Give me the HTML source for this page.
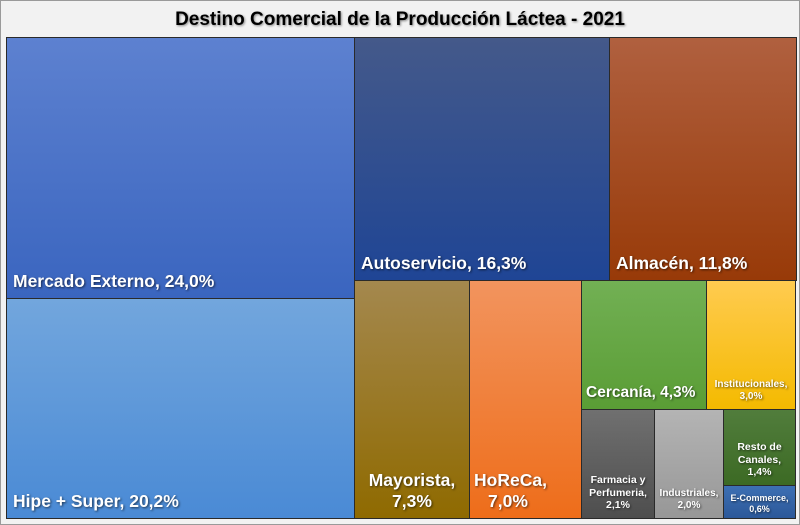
<!DOCTYPE html>
<html><head><meta charset="utf-8"><style>
*{margin:0;padding:0;box-sizing:border-box}
body{width:800px;height:525px;background:#f2f2f2;position:relative;overflow:hidden;font-family:"Liberation Sans",sans-serif;font-weight:bold}
.frame{position:absolute;left:0;top:0;width:800px;height:525px;border:1px solid #9a9a9a}
h1{position:absolute;top:9px;left:0;width:800px;text-align:center;font-size:19px;color:#000;text-shadow:1px 1px 2px #888}
.c{position:absolute;border:1px solid #2a2a2a;color:#fff;text-shadow:1px 1px 2px rgba(0,0,0,.6)}
.c span{position:absolute;bottom:6px;left:6px;line-height:1.2;white-space:nowrap}
.big{font-size:17.5px}
.sm{font-size:10.5px;text-align:center}
</style></head><body>
<div class="frame"></div>
<h1>Destino Comercial de la Producción Láctea - 2021</h1>
<div class="c" style="left:6px;top:37px;width:349px;height:262px;background:linear-gradient(#5d81d0,#3a65bf)"><span class="big">Mercado Externo, 24,0%</span></div>
<div class="c" style="left:6px;top:298px;width:349px;height:221px;background:linear-gradient(#72a6dd,#4a8ad5)"><span class="big">Hipe + Super, 20,2%</span></div>
<div class="c" style="left:354px;top:37px;width:256px;height:244px;background:linear-gradient(#44598a,#1f4595)"><span class="big">Autoservicio, 16,3%</span></div>
<div class="c" style="left:609px;top:37px;width:188px;height:244px;background:linear-gradient(#b0603f,#983a08)"><span class="big">Almacén, 11,8%</span></div>
<div class="c" style="left:354px;top:280px;width:116px;height:239px;background:linear-gradient(#a4884e,#8f6a00)"><span class="big" style="left:0;width:100%;text-align:center">Mayorista,<br>7,3%</span></div>
<div class="c" style="left:469px;top:280px;width:113px;height:239px;background:linear-gradient(#f2945e,#ee6d1a)"><span class="big" style="left:4px">HoReCa,<br><span style="position:static;padding-left:14px">7,0%</span></span></div>
<div class="c" style="left:581px;top:280px;width:126px;height:130px;background:linear-gradient(#72b054,#5a9d35)"><span style="left:4px;font-size:15.5px">Cercanía, 4,3%</span></div>
<div class="c" style="left:706px;top:280px;width:90px;height:130px;background:linear-gradient(#ffcb50,#f4ba00)"><span class="sm" style="left:0;width:100%;font-size:10px">Institucionales,<br>3,0%</span></div>
<div class="c" style="left:581px;top:409px;width:74px;height:110px;background:linear-gradient(#707070,#4e4e4e)"><span class="sm" style="left:0;width:100%">Farmacia y<br>Perfumeria,<br>2,1%</span></div>
<div class="c" style="left:654px;top:409px;width:70px;height:110px;background:linear-gradient(#b4b4b4,#979797)"><span class="sm" style="left:0;width:100%;font-size:10px">Industriales,<br>2,0%</span></div>
<div class="c" style="left:723px;top:409px;width:73px;height:77px;background:linear-gradient(#517d3c,#3c6a24)"><span class="sm" style="left:0;width:100%">Resto de<br>Canales,<br>1,4%</span></div>
<div class="c" style="left:723px;top:485px;width:73px;height:34px;background:linear-gradient(#3d70b4,#2c5899)"><span class="sm" style="left:0;width:100%;bottom:3px;font-size:9px">E-Commerce,<br>0,6%</span></div>
</body></html>
